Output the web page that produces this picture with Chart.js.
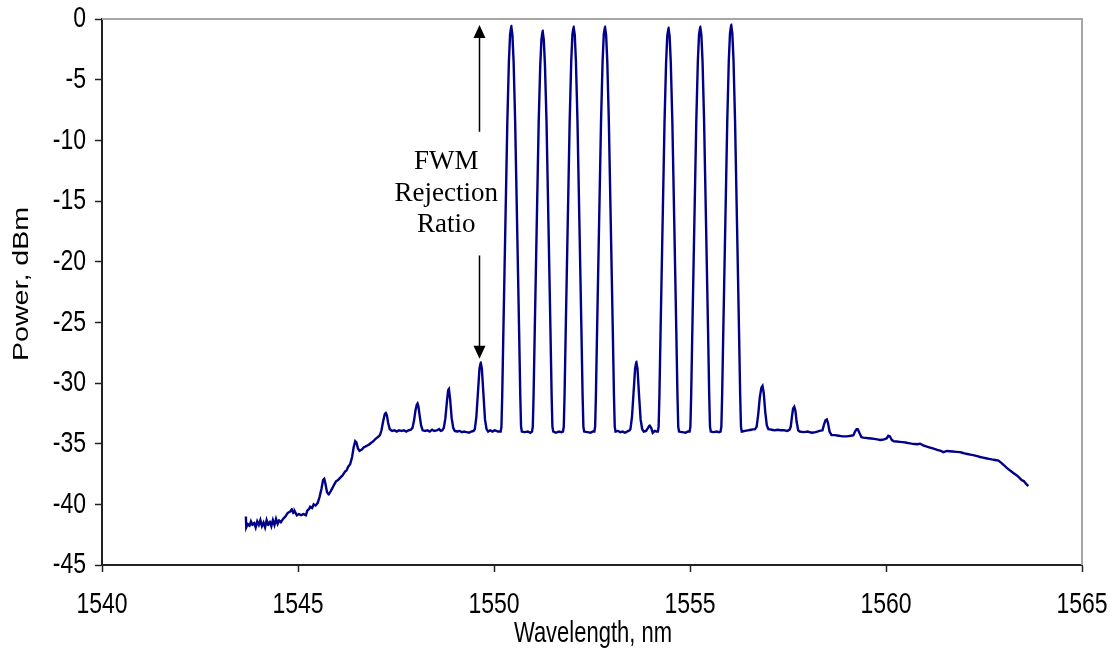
<!DOCTYPE html>
<html>
<head>
<meta charset="utf-8">
<script src="https://cdn.jsdelivr.net/npm/chart.js@4.4.1/dist/chart.umd.min.js"></script>
<style>
  html, body { margin: 0; padding: 0; background: #ffffff; }
  #wrap { width: 1114px; height: 657px; position: relative; }
</style>
</head>
<body>
<div id="wrap"><canvas id="fwmChart"></canvas></div>
<script>
// Spectrum (wavelength in nm, power in dBm)
const wavelength = [
  1543.67, 1543.68, 1543.72, 1543.76, 1543.80, 1543.84, 1543.88, 1543.92, 1543.96, 1544.00,
  1544.04, 1544.08, 1544.12, 1544.16, 1544.20, 1544.24, 1544.28, 1544.32, 1544.36, 1544.40,
  1544.44, 1544.48, 1544.52, 1544.56, 1544.62, 1544.68, 1544.74, 1544.80, 1544.84, 1544.88,
  1544.92, 1544.97, 1545.02, 1545.08, 1545.14, 1545.20, 1545.24, 1545.28, 1545.31, 1545.36,
  1545.40, 1545.45, 1545.50, 1545.55, 1545.60, 1545.64, 1545.67, 1545.70, 1545.74, 1545.78,
  1545.82, 1545.87, 1545.92, 1545.97, 1546.02, 1546.08, 1546.14, 1546.20, 1546.24, 1546.28,
  1546.33, 1546.38, 1546.42, 1546.46, 1546.49, 1546.53, 1546.57, 1546.62, 1546.68, 1546.74,
  1546.80, 1546.86, 1546.92, 1546.98, 1547.04, 1547.09, 1547.13, 1547.17, 1547.21, 1547.24,
  1547.27, 1547.30, 1547.34, 1547.40, 1547.46, 1547.52, 1547.58, 1547.64, 1547.70, 1547.76,
  1547.82, 1547.88, 1547.92, 1547.96, 1548.00, 1548.03, 1548.05, 1548.07, 1548.10, 1548.14,
  1548.18, 1548.24, 1548.30, 1548.36, 1548.42, 1548.48, 1548.54, 1548.60, 1548.64, 1548.68,
  1548.72, 1548.76, 1548.80, 1548.83, 1548.85, 1548.88, 1548.92, 1548.96, 1549.00, 1549.06,
  1549.12, 1549.18, 1549.24, 1549.30, 1549.36, 1549.42, 1549.48, 1549.51, 1549.55, 1549.59,
  1549.63, 1549.66, 1549.69, 1549.73, 1549.77, 1549.81, 1549.85, 1549.90, 1549.96, 1550.02,
  1550.10,
  // pump 1
  1550.17, 1550.19, 1550.21, 1550.24, 1550.29, 1550.34, 1550.38, 1550.41, 1550.44, 1550.47, 1550.50, 1550.54, 1550.59, 1550.64, 1550.67, 1550.69, 1550.71,
  1550.78, 1550.86, 1550.93,
  // pump 2
  1550.97, 1550.99, 1551.01, 1551.04, 1551.09, 1551.14, 1551.18, 1551.21, 1551.24, 1551.27, 1551.30, 1551.34, 1551.39, 1551.44, 1551.47, 1551.49, 1551.51,
  1551.58, 1551.66, 1551.72,
  // pump 3
  1551.76, 1551.78, 1551.80, 1551.83, 1551.88, 1551.93, 1551.97, 1552.00, 1552.03, 1552.06, 1552.09, 1552.13, 1552.18, 1552.23, 1552.26, 1552.28, 1552.30,
  1552.38, 1552.46, 1552.52,
  // pump 4
  1552.56, 1552.58, 1552.60, 1552.63, 1552.68, 1552.73, 1552.77, 1552.80, 1552.83, 1552.86, 1552.89, 1552.93, 1552.98, 1553.03, 1553.06, 1553.08, 1553.10,
  1553.16, 1553.22, 1553.28, 1553.34, 1553.40, 1553.46,
  1553.48, 1553.52, 1553.56, 1553.60, 1553.63, 1553.66, 1553.70, 1553.74, 1553.78, 1553.82,
  1553.88, 1553.93, 1553.97, 1554.01, 1554.05, 1554.10, 1554.14,
  // pump 5
  1554.18, 1554.20, 1554.22, 1554.25, 1554.30, 1554.35, 1554.39, 1554.42, 1554.45, 1554.48, 1554.51, 1554.55, 1554.60, 1554.65, 1554.68, 1554.70, 1554.72,
  1554.80, 1554.88, 1554.95,
  // pump 6
  1554.99, 1555.01, 1555.03, 1555.06, 1555.11, 1555.16, 1555.20, 1555.23, 1555.26, 1555.29, 1555.32, 1555.36, 1555.41, 1555.46, 1555.49, 1555.51, 1555.53,
  1555.60, 1555.68, 1555.74,
  // pump 7
  1555.78, 1555.80, 1555.82, 1555.85, 1555.90, 1555.95, 1555.99, 1556.02, 1556.05, 1556.08, 1556.11, 1556.15, 1556.20, 1556.25, 1556.28, 1556.30, 1556.32,
  1556.40, 1556.48, 1556.56, 1556.66,
  1556.70, 1556.74, 1556.78, 1556.82, 1556.85, 1556.88, 1556.92, 1556.96, 1557.00,
  1557.08, 1557.16, 1557.24, 1557.32, 1557.40, 1557.48, 1557.54,
  1557.57, 1557.60, 1557.63, 1557.66, 1557.69, 1557.72, 1557.76, 1557.80,
  1557.90, 1558.00, 1558.10, 1558.20, 1558.30,
  1558.38, 1558.42, 1558.46, 1558.49, 1558.52, 1558.56, 1558.61,
  1558.70, 1558.80, 1558.90, 1559.00, 1559.10,
  1559.17, 1559.21, 1559.25, 1559.28, 1559.32, 1559.37, 1559.42,
  1559.55, 1559.70, 1559.85, 1559.95,
  1560.02, 1560.06, 1560.10, 1560.15, 1560.20,
  1560.35, 1560.50, 1560.65, 1560.80, 1560.87, 1560.95, 1561.10, 1561.25, 1561.40, 1561.46,
  1561.55, 1561.70, 1561.89, 1562.00, 1562.15, 1562.30, 1562.40, 1562.55, 1562.70, 1562.87,
  1562.95, 1563.02, 1563.08, 1563.16, 1563.24, 1563.33, 1563.40, 1563.46, 1563.52, 1563.57,
  1563.63
];
const power = [
  -41.0, -41.9, -41.6, -41.8, -41.4, -41.7, -41.5, -41.9, -41.4, -41.7,
  -41.3, -41.8, -41.5, -41.9, -41.3, -41.7, -41.4, -41.8, -41.3, -41.7,
  -41.2, -41.6, -41.3, -41.5, -41.2, -41.0, -40.7, -40.6, -40.4, -40.7,
  -40.6, -40.9, -40.8, -40.9, -40.8, -40.9, -40.5, -40.4, -40.2, -40.3,
  -40.0, -40.1, -39.9, -39.4, -38.7, -38.0, -37.9, -38.3, -39.0, -39.2,
  -39.0, -38.7, -38.4, -38.1, -38.0, -37.8, -37.6, -37.3, -37.2, -36.9,
  -36.7, -36.1, -35.3, -34.8, -34.9, -35.4, -35.6, -35.5, -35.3, -35.2,
  -35.1, -34.95, -34.8, -34.6, -34.45, -34.3, -33.9, -33.2, -32.6, -32.45,
  -32.7, -33.3, -33.8, -33.95, -33.9, -34.0, -33.9, -33.95, -33.9, -34.0,
  -33.9, -33.85, -33.7, -33.1, -32.2, -31.8, -31.7, -31.9, -32.6, -33.5,
  -33.9, -33.95, -33.9, -34.0, -33.85, -33.95, -33.9, -33.8, -33.95, -33.9,
  -33.7, -32.9, -31.5, -30.6, -30.5, -31.3, -32.9, -33.7, -33.95, -34.0,
  -33.95, -34.05, -34.0, -34.05, -34.1, -34.0, -33.95, -33.8, -32.8, -30.8,
  -28.8, -28.3, -28.8, -30.9, -33.0, -33.8, -34.0, -33.9, -34.0, -33.9,
  -34.0,
  // pump 1
  -34.0, -33.6, -31.0, -25.6, -17.0, -8.5, -3.5, -1.3, -0.58, -1.3, -3.5, -8.5, -17.0, -25.6, -31.0, -33.6, -34.0,
  -34.05, -34.0, -34.1,
  // pump 2
  -34.0, -33.6, -31.0, -25.6, -17.0, -8.5, -3.8, -1.7, -0.96, -1.7, -3.8, -8.5, -17.0, -25.6, -31.0, -33.6, -34.0,
  -34.1, -34.0, -34.05,
  // pump 3
  -34.0, -33.6, -31.0, -25.6, -17.0, -8.5, -3.5, -1.3, -0.63, -1.3, -3.5, -8.5, -17.0, -25.6, -31.0, -33.6, -34.0,
  -34.05, -34.1, -34.0,
  // pump 4
  -34.0, -33.6, -31.0, -25.6, -17.0, -8.5, -3.5, -1.3, -0.63, -1.3, -3.5, -8.5, -17.0, -25.6, -31.0, -33.6, -34.0,
  -33.95, -34.05, -34.0, -34.1, -34.0, -33.9,
  -33.8, -32.8, -30.8, -28.8, -28.25, -28.8, -31.0, -33.0, -33.8, -34.0,
  -33.95, -33.7, -33.5, -33.7, -34.1, -33.95, -34.0,
  // pump 5
  -34.0, -33.6, -31.0, -25.6, -17.0, -8.5, -3.6, -1.4, -0.72, -1.4, -3.6, -8.5, -17.0, -25.6, -31.0, -33.6, -34.0,
  -34.05, -34.1, -34.0,
  // pump 6
  -34.0, -33.6, -31.0, -25.6, -17.0, -8.5, -3.5, -1.3, -0.63, -1.3, -3.5, -8.5, -17.0, -25.6, -31.0, -33.6, -34.0,
  -34.05, -34.0, -34.05,
  // pump 7
  -34.0, -33.6, -31.0, -25.6, -17.0, -8.5, -3.4, -1.2, -0.47, -1.2, -3.4, -8.5, -17.0, -25.6, -31.0, -33.6, -34.0,
  -33.95, -33.9, -33.85, -33.8,
  -33.6, -32.6, -31.2, -30.4, -30.25, -30.8, -32.4, -33.5, -33.8,
  -33.85, -33.9, -33.85, -33.9, -33.9, -33.95, -33.85,
  -33.6, -32.8, -32.1, -31.96, -32.3, -33.2, -33.9, -34.0,
  -34.05, -34.0, -34.1, -34.05, -33.95,
  -33.9, -33.4, -33.05, -33.0, -33.3, -34.0, -34.3,
  -34.3, -34.35, -34.4, -34.4, -34.35,
  -34.3, -34.0, -33.8, -33.8, -34.1, -34.45, -34.5,
  -34.55, -34.6, -34.7, -34.65,
  -34.55, -34.35, -34.4, -34.7, -34.8,
  -34.85, -34.9, -35.0, -35.05, -35.0, -35.15, -35.3, -35.45, -35.6, -35.7,
  -35.6, -35.65, -35.7, -35.8, -35.9, -36.0, -36.1, -36.2, -36.3, -36.4,
  -36.6, -36.8, -37.0, -37.2, -37.4, -37.6, -37.8, -38.0, -38.1, -38.3,
  -38.5
];

const xTicks = [1540, 1545, 1550, 1555, 1560, 1565];
const yTicks = [0, -5, -10, -15, -20, -25, -30, -35, -40, -45];
const xTitle = "Wavelength, nm";
const yTitle = "Power, dBm";

// annotation: arrow between pump level and strongest FWM product
const arrowX = 1549.63;
const arrowTop = -0.5;
const arrowBottom = -28.0;
const arrowGap = [-9.3, -19.5];
const labelX = 1548.78;
const labelLines = ["FWM", "Rejection", "Ratio"];
const labelY = [-11.8, -14.4, -17.0];

const points = wavelength.map((w, i) => ({ x: w, y: power[i] }));

// the original picture is stretched vertically, so axis text is drawn taller than wide
const STRETCH = 1.3;
const TICK_FONT = "23px 'Liberation Sans', Arial, sans-serif";
const TITLE_FONT = "22px 'Liberation Sans', Arial, sans-serif";

function tallText(ctx, text, x, y, align, rotate) {
  ctx.save();
  ctx.translate(x, y);
  ctx.scale(1, STRETCH);
  if (rotate) ctx.rotate(-Math.PI / 2);
  ctx.textAlign = align;
  ctx.textBaseline = "middle";
  ctx.fillText(text, 0, 0);
  ctx.restore();
}

const framePlugin = {
  id: "frame",
  afterDatasetsDraw(chart) {
    const { ctx, chartArea: a, scales } = chart;
    const xs = scales.x, ys = scales.y;
    ctx.save();
    // grey top / right frame
    ctx.strokeStyle = "#a6a6a6";
    ctx.lineWidth = 2;
    ctx.beginPath();
    ctx.moveTo(a.left, a.top);
    ctx.lineTo(a.right, a.top);
    ctx.lineTo(a.right, a.bottom);
    ctx.stroke();

    // arrow
    const ax = xs.getPixelForValue(arrowX);
    const yT = ys.getPixelForValue(arrowTop);
    const yB = ys.getPixelForValue(arrowBottom);
    const g1 = ys.getPixelForValue(arrowGap[0]);
    const g2 = ys.getPixelForValue(arrowGap[1]);
    ctx.strokeStyle = "#000";
    ctx.fillStyle = "#000";
    ctx.lineWidth = 1.5;
    ctx.beginPath();
    ctx.moveTo(ax, yT + 10);
    ctx.lineTo(ax, g1);
    ctx.moveTo(ax, g2);
    ctx.lineTo(ax, yB - 10);
    ctx.stroke();
    ctx.beginPath();
    ctx.moveTo(ax, yT);
    ctx.lineTo(ax - 6, yT + 13);
    ctx.lineTo(ax + 6, yT + 13);
    ctx.closePath();
    ctx.fill();
    ctx.beginPath();
    ctx.moveTo(ax, yB);
    ctx.lineTo(ax - 6, yB - 13);
    ctx.lineTo(ax + 6, yB - 13);
    ctx.closePath();
    ctx.fill();

    // label
    ctx.font = "27px 'Liberation Serif', 'Times New Roman', serif";
    ctx.textAlign = "center";
    ctx.textBaseline = "middle";
    const lx = xs.getPixelForValue(labelX);
    labelLines.forEach((t, i) => {
      ctx.fillText(t, lx, ys.getPixelForValue(labelY[i]));
    });

    // axis tick labels and titles
    ctx.font = TICK_FONT;
    xTicks.forEach(v => tallText(ctx, String(v), xs.getPixelForValue(v), a.bottom + 40, "center"));
    yTicks.forEach(v => tallText(ctx, String(v), a.left - 16, ys.getPixelForValue(v), "right"));
    ctx.font = TITLE_FONT;
    tallText(ctx, xTitle, (a.left + a.right) / 2 + 1, a.bottom + 69, "center");
    tallText(ctx, yTitle, 22, (a.top + a.bottom) / 2 - 8, "center", true);
    ctx.restore();
  }
};

const gridOpts = {
  drawOnChartArea: false,
  drawTicks: true,
  tickLength: 7,
  tickColor: "#222",
  tickWidth: 1.5
};

new Chart(document.getElementById("fwmChart"), {
  type: "scatter",
  data: {
    datasets: [{
      label: "Spectrum",
      data: points,
      showLine: true,
      borderColor: "#000088",
      borderWidth: 2.4,
      pointRadius: 0,
      tension: 0.0001
    }]
  },
  options: {
    responsive: true,
    maintainAspectRatio: false,
    animation: false,
    layout: { padding: { top: 19, right: 32, left: 0, bottom: 0 } },
    plugins: {
      legend: { display: false },
      tooltip: { enabled: false }
    },
    scales: {
      x: {
        type: "linear",
        min: 1540,
        max: 1565,
        afterBuildTicks: (s) => { s.ticks = xTicks.map(v => ({ value: v })); },
        afterFit: (s) => { s.height = 92; s.paddingLeft = 0; s.paddingRight = 0; },
        ticks: { display: false },
        grid: gridOpts,
        border: { color: "#222", width: 2 },
        title: { display: false }
      },
      y: {
        type: "linear",
        min: -45,
        max: 0,
        afterBuildTicks: (s) => { s.ticks = yTicks.map(v => ({ value: v })); },
        afterFit: (s) => { s.width = 102; s.paddingTop = 0; s.paddingBottom = 0; },
        ticks: { display: false },
        grid: gridOpts,
        border: { color: "#222", width: 2 },
        title: { display: false }
      }
    }
  },
  plugins: [framePlugin]
});
</script>
</body>
</html>
